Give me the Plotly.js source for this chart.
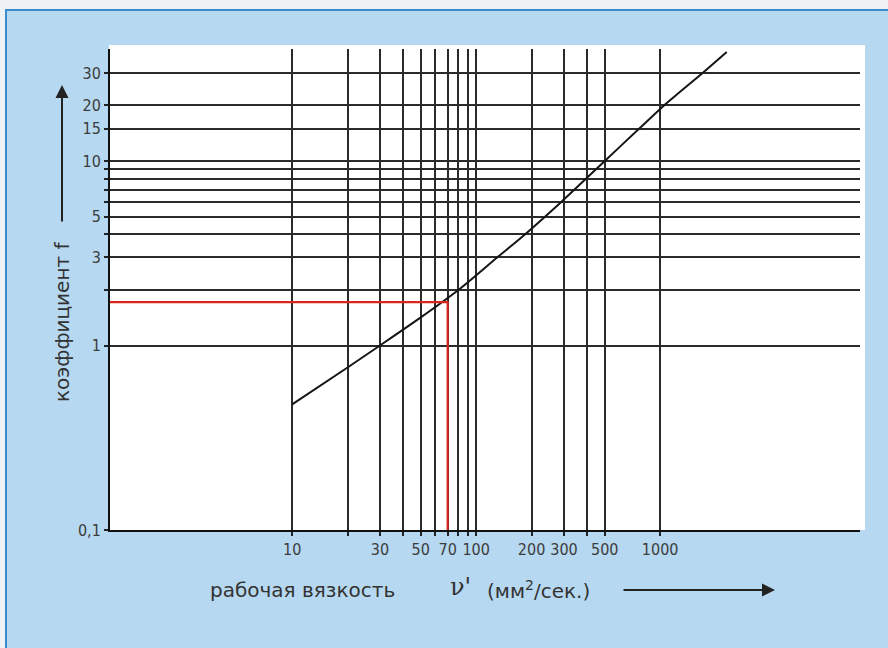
<!DOCTYPE html>
<html>
<head>
<meta charset="utf-8">
<script src="https://cdn.plot.ly/plotly-3.0.1.min.js"></script>
<style>
  html, body { margin: 0; padding: 0; width: 888px; height: 648px; overflow: hidden; background: #eef2f5; }
  #frame { position: absolute; left: 5px; top: 9px; width: 883px; height: 639px;
           background: #b6d8f0; border-left: 2px solid #3a8bcc; border-top: 2px solid #3a8bcc; box-sizing: border-box; }
  #chart { position: absolute; left: 0; top: 0; width: 888px; height: 648px; }
</style>
</head>
<body>
<div id="frame"></div>
<div id="chart"></div>
<script>
// ---- data ----
const viscosity = [10, 20, 30, 50, 80, 130, 184, 290, 500, 770, 1050, 1700, 2300];   // mm²/s
const factorF   = [0.48, 0.76, 1.0, 1.42, 2.0, 3.0, 4.0, 6.0, 10, 15, 20, 30, 39];

const exampleNu = [1, 70, 70];        // red reading example
const exampleF  = [1.72, 1.72, 0.1];

const xGridVals  = [10, 20, 30, 40, 50, 60, 70, 80, 90, 100, 200, 300, 400, 500, 1000];
const xTickText  = ['10', '', '30', '', '50', '', '70', '', '', '100', '200', '300', '', '500', '1000'];
const yGridVals  = [0.1, 1, 2, 3, 4, 5, 6, 7, 8, 9, 10, 15, 20, 30];
const yTickText  = ['0,1', '1', '', '3', '', '5', '', '', '', '', '10', '15', '20', '30'];

const xTitleMain = 'рабочая вязкость';
const xTitleSym  = 'ν\'';
const xTitleUnit = '(мм<sup>2</sup>/сек.)';
const yTitle     = 'коэффициент f';

// ---- layout helpers (pixel -> paper) ----
const W = 888, H = 648, ML = 110, MR = 28, MT = 49, MB = 118;
const PW = W - ML - MR, PH = H - MT - MB;
const px = x => (x - ML) / PW;
const py = y => (H - MB - y) / PH;

const tickFont  = { family: 'Liberation Sans Narrow, DejaVu Sans Condensed, Arial Narrow, sans-serif', size: 16, color: '#3c3c3c' };
const titleFont = { family: 'DejaVu Sans, Verdana, sans-serif', size: 20, color: '#333333' };

const traces = [
  { x: viscosity, y: factorF, type: 'scatter', mode: 'lines',
    line: { color: '#151515', width: 2, shape: 'spline', smoothing: 0.8 }, hoverinfo: 'skip', showlegend: false },
  { x: exampleNu, y: exampleF, type: 'scatter', mode: 'lines',
    line: { color: '#d9261c', width: 2.2 }, hoverinfo: 'skip', showlegend: false }
];

const layout = {
  width: W, height: H,
  margin: { l: ML, r: MR, t: MT, b: MB, pad: 0 },
  paper_bgcolor: 'rgba(0,0,0,0)',
  plot_bgcolor: '#ffffff',
  showlegend: false,
  xaxis: {
    type: 'log', range: [0.01, 4.086],
    tickmode: 'array', tickvals: xGridVals, ticktext: xTickText,
    ticks: 'outside', ticklen: 4, tickwidth: 2, tickcolor: '#222',
    showgrid: true, gridcolor: '#2a2a2a', gridwidth: 2,
    showline: true, linecolor: '#111', linewidth: 2,
    zeroline: false, tickfont: tickFont, fixedrange: true
  },
  yaxis: {
    type: 'log', range: [-1, 1.607],
    tickmode: 'array', tickvals: yGridVals, ticktext: yTickText,
    ticks: 'outside', ticklen: 4, tickwidth: 2, tickcolor: '#222',
    showgrid: true, gridcolor: '#2a2a2a', gridwidth: 2,
    showline: true, linecolor: '#111', linewidth: 2,
    zeroline: false, tickfont: tickFont, fixedrange: true
  },
  shapes: [
    { type: 'rect', xref: 'paper', yref: 'paper', layer: 'below',
      x0: px(109), x1: px(865), y0: py(530), y1: py(45),
      fillcolor: '#ffffff', line: { width: 0 } }
  ],
  annotations: [
    { xref: 'paper', yref: 'paper', x: px(62), y: py(322), text: yTitle, textangle: -90,
      showarrow: false, font: titleFont, xanchor: 'center', yanchor: 'middle' },
    { xref: 'paper', yref: 'paper', x: px(62), y: py(85), text: '', showarrow: true,
      ax: 0, ay: 138, arrowhead: 2, arrowsize: 1.3, arrowwidth: 2, arrowcolor: '#222' },
    { xref: 'paper', yref: 'paper', x: px(302), y: py(590), text: xTitleMain,
      showarrow: false, font: titleFont, xanchor: 'center', yanchor: 'middle' },
    { xref: 'paper', yref: 'paper', x: px(460), y: py(587), text: xTitleSym,
      showarrow: false, font: { family: 'DejaVu Serif, serif', size: 24, color: '#333' }, xanchor: 'center', yanchor: 'middle' },
    { xref: 'paper', yref: 'paper', x: px(538), y: py(590), text: xTitleUnit,
      showarrow: false, font: titleFont, xanchor: 'center', yanchor: 'middle' },
    { xref: 'paper', yref: 'paper', x: px(775), y: py(590), text: '', showarrow: true,
      ax: -153, ay: 0, arrowhead: 2, arrowsize: 1.3, arrowwidth: 2, arrowcolor: '#222' }
  ]
};

Plotly.newPlot('chart', traces, layout, { displayModeBar: false, staticPlot: true });
</script>
</body>
</html>
